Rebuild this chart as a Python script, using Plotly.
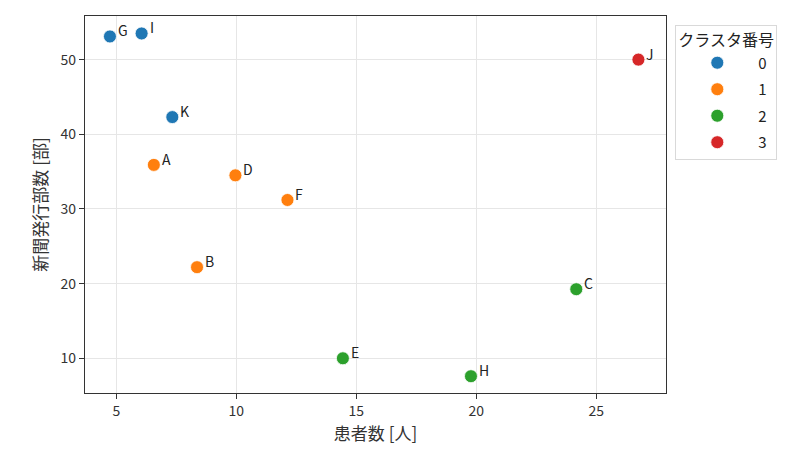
import plotly.graph_objects as go

labels = ["A", "B", "C", "D", "E", "F", "G", "H", "I", "J", "K"]
patients = [6.56, 8.36, 24.17, 9.96, 14.44, 12.13, 4.73, 19.78, 6.05, 26.76, 7.33]
newspapers = [35.9, 22.2, 19.25, 34.5, 10.0, 31.2, 53.1, 7.6, 53.5, 50.0, 42.3]
clusters = [1, 1, 2, 1, 2, 1, 0, 2, 0, 3, 0]

cluster_ids = [0, 1, 2, 3]
colors = ["#1f77b4", "#ff7f0e", "#2ca02c", "#d62728"]

FONT = "Noto Sans CJK JP, Noto Sans, sans-serif"

fig = go.Figure()
for cid, col in zip(cluster_ids, colors):
    xs = [x for x, c in zip(patients, clusters) if c == cid]
    ys = [y for y, c in zip(newspapers, clusters) if c == cid]
    fig.add_trace(go.Scatter(
        x=xs, y=ys, mode="markers", name=str(cid), legendgroup=str(cid),
        marker=dict(color=col, size=13, line=dict(color="white", width=0.8)),
    ))

for lab, x, y in zip(labels, patients, newspapers):
    fig.add_annotation(x=x, y=y, text=lab, showarrow=False,
                       xanchor="left", yanchor="middle", xshift=6, yshift=6,
                       font=dict(size=14, color="#222222", family=FONT))

axis_common = dict(
    showline=True, linecolor="#333333", linewidth=1.2, mirror=True,
    showgrid=True, gridcolor="#e6e6e6", gridwidth=1,
    ticks="outside", ticklen=5, tickcolor="#333333",
    tickfont=dict(size=14, color="#333333", family=FONT),
    zeroline=False,
)

fig.update_xaxes(range=[3.69, 27.91], tickvals=[5, 10, 15, 20, 25],
                 title=dict(text="患者数 [人]", font=dict(size=17, color="#333333", family=FONT), standoff=6),
                 **axis_common)
fig.update_yaxes(range=[5.35, 55.84], tickvals=[10, 20, 30, 40, 50],
                 title=dict(text="新聞発行部数 [部]", font=dict(size=17, color="#333333", family=FONT), standoff=8),
                 **axis_common)

fig.update_layout(
    width=804, height=465,
    margin=dict(l=77, r=146, t=8, b=80),
    plot_bgcolor="white", paper_bgcolor="white",
    font=dict(family=FONT),
    showlegend=True,
    legend=dict(
        x=1.016, y=0.977, xanchor="left", yanchor="top",
        bordercolor="#d9d9d9", borderwidth=1, bgcolor="white",
        title=dict(text="クラスタ番号", side="top", font=dict(size=16, color="#222222", family=FONT)),
        font=dict(size=15, color="#222222", family=FONT),
        itemsizing="trace", itemwidth=72, tracegroupgap=4,
    ),
)

fig.write_html("out.html")
